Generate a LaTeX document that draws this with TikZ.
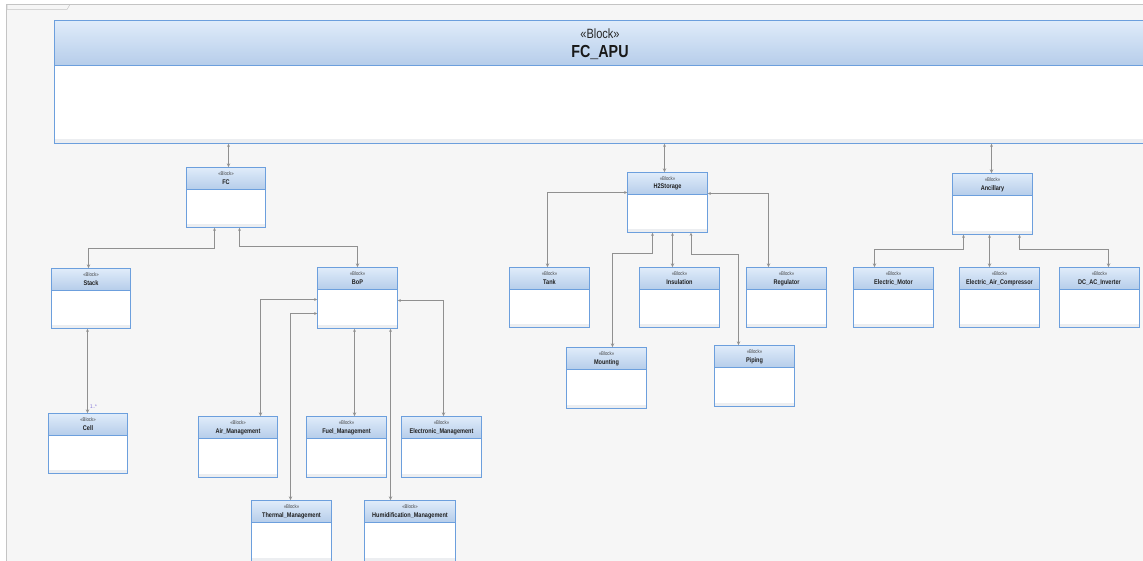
\documentclass[tikz,border=0pt]{standalone}
\usepackage{fontspec}
\newfontfamily\nf[FakeStretch=0.82]{Liberation Sans}
\usetikzlibrary{arrows.meta,fit}

\definecolor{bggray}{HTML}{F6F6F6}
\definecolor{framegray}{HTML}{C4C4C4}
\definecolor{bordercol}{HTML}{6C9FDD}
\definecolor{hdrtop}{HTML}{E0ECFA}
\definecolor{hdrbot}{HTML}{B6CDEA}
\definecolor{stripgray}{HTML}{ECEEF1}
\definecolor{conngray}{HTML}{909090}
\definecolor{multcol}{HTML}{7D6FD6}

\tikzset{
  conn/.style={draw=conngray, line width=1bp,
    arrows={Stealth[length=3.2bp,width=2.8bp]-Stealth[length=4bp,width=3.4bp]}},
  stereo/.style={font=\nf\fontsize{5.3}{5.3}\selectfont, text=black!75, inner sep=0pt},
  bname/.style={font=\nf\bfseries\fontsize{6.8}{6.8}\selectfont, text=black!88, inner sep=0pt},
  mult/.style={font=\nf\fontsize{5.5}{5.5}\selectfont, text=multcol, inner sep=0pt},
}

% SysML block: name, x1, y1, x2, y2, header height, bottom strip height (in bp)
\newcommand\sysblock[7]{%
  \node[fit={(#2,#3) (#4,#5)}, inner sep=0pt, fill=white] (#1) {};
  \fill[stripgray] ([yshift=#7bp]#1.south west) rectangle (#1.south east);
  \shade[top color=hdrtop, bottom color=hdrbot]
    (#1.north west) rectangle ([yshift=-#6bp]#1.north east);
  \draw[bordercol, line width=1.5bp]
    ([yshift=-#6bp]#1.north west) -- ([yshift=-#6bp]#1.north east);
  \draw[bordercol, line width=1.5bp] (#1.north west) rectangle (#1.south east);
}
% small block with its stereotype and name
\newcommand\smallblock[6]{%
  \sysblock{#1}{#2}{#3}{#4}{#5}{22}{4}%
  \node[stereo] (#1-st) at ([yshift=-6.5bp]#1.north) {«Block»};
  \node[bname] (#1-nm) at ([yshift=-15bp]#1.north) {#6};
}

\begin{document}
\begin{tikzpicture}[x=1bp, y=-1bp]
\useasboundingbox (0,0) rectangle (1143,561);
\clip (0,0) rectangle (1143,561);

% diagram frame
\fill[white] (0,0) rectangle (1143,561);
\fill[bggray] (6,4) rectangle (1143,561);
\draw[framegray, line width=1bp] (6.5,561) -- (6.5,4.5) -- (1143,4.5);
\draw[framegray, line width=0.5bp] (7,4.5) -- (7,9.5) -- (67,9.5) -- (70,4.5);

\begin{scope}[shift={(0.5,0.5)}]
% top-level block
\sysblock{fcapu}{54}{20}{1145}{143}{45}{5}
\node[font=\nf\fontsize{13.5}{13.5}\selectfont, text=black!85, inner sep=0pt]
  (fcapu-st) at ([yshift=-13bp]fcapu.north) {«Block»};
\node[font=\nf\bfseries\fontsize{17.5}{17.5}\selectfont, text=black!90, inner sep=0pt]
  (fcapu-nm) at ([yshift=-32bp]fcapu.north) {FC\_APU};

% fuel cell branch
\smallblock{fc}{186}{167}{265}{227}{FC}
\smallblock{stack}{51}{268}{130}{328}{Stack}
\smallblock{cell}{48}{413}{127}{473}{Cell}
\smallblock{bop}{317}{267}{397}{328}{BoP}
\smallblock{air}{198}{416}{277}{477}{Air\_Management}
\smallblock{fuel}{306}{416}{386}{477}{Fuel\_Management}
\smallblock{elec}{401}{416}{481}{477}{Electronic\_Management}
\smallblock{thermal}{251}{500}{331}{561}{Thermal\_Management}
\smallblock{humid}{364}{500}{455}{561}{Humidification\_Management}

% hydrogen storage branch
\smallblock{h2}{627}{172}{707}{232}{H2Storage}
\smallblock{tank}{509}{267}{589}{327}{Tank}
\smallblock{ins}{639}{267}{719}{327}{Insulation}
\smallblock{reg}{746}{267}{826}{327}{Regulator}
\smallblock{mount}{566}{347}{646}{408}{Mounting}
\smallblock{piping}{714}{345}{794}{406}{Piping}

% ancillary branch
\smallblock{anc}{952}{173}{1032}{234}{Ancillary}
\smallblock{emotor}{853}{267}{933}{327}{Electric\_Motor}
\smallblock{eac}{959}{267}{1039}{327}{Electric\_Air\_Compressor}
\smallblock{dcac}{1059}{267}{1139}{327}{DC\_AC\_Inverter}

% connector end points
\coordinate (fctop) at ([xshift=2.5bp]fc.north);
\coordinate (h2top) at ([xshift=-3bp]h2.north);
\coordinate (anctop) at ([xshift=-1bp]anc.north);
\coordinate (celltop) at ([xshift=-0.5bp]cell.north);
\coordinate (fueltop) at ([xshift=8bp]fuel.north);
\coordinate (humtop) at ([xshift=-19.5bp]humid.north);
\coordinate (instop) at ([xshift=-7bp]ins.north);
\coordinate (eactop) at ([xshift=-10bp]eac.north);

% compositions of the top-level block
\draw[conn] (fcapu.south -| fctop) -- (fctop);
\draw[conn] (fcapu.south -| h2top) -- (h2top);
\draw[conn] (fcapu.south -| anctop) -- (anctop);

% FC parts
\draw[conn] ([xshift=-11.5bp]fc.south) -- ++(0,21) -| ([xshift=-2.5bp]stack.north);
\draw[conn] ([xshift=13.5bp]fc.south) -- ++(0,19) -| (bop.north);
\draw[conn] (stack.south -| celltop) -- (celltop);
\node[mult, anchor=south west] (cellmult) at ([xshift=2.5bp,yshift=4.5bp]celltop) {1..*};

% BoP parts
\draw[conn] ([yshift=-1.5bp]bop.west) -| ([xshift=22.5bp]air.north);
\draw[conn] ([yshift=-15.5bp]bop.west) -| ([xshift=-1bp]thermal.north);
\draw[conn] (bop.south -| fueltop) -- (fueltop);
\draw[conn] (bop.south -| humtop) -- (humtop);
\draw[conn] ([yshift=-2.5bp]bop.east) -| ([xshift=2bp]elec.north);

% H2Storage parts
\draw[conn] ([yshift=10bp]h2.west) -| ([xshift=-2bp]tank.north);
\draw[conn] ([yshift=9bp]h2.east) -| ([xshift=-18bp]reg.north);
\draw[conn] ([xshift=-15bp]h2.south) -- ++(0,21) -| ([xshift=6bp]mount.north);
\draw[conn] (h2.south -| instop) -- (instop);
\draw[conn] ([xshift=23.5bp]h2.south) -- ++(0,22) -| ([xshift=-16bp]piping.north);

% Ancillary parts
\draw[conn] ([xshift=-29bp]anc.south) -- ++(0,15) -| ([xshift=-19bp]emotor.north);
\draw[conn] (anc.south -| eactop) -- (eactop);
\draw[conn] ([xshift=27bp]anc.south) -- ++(0,15) -| ([xshift=9bp]dcac.north);
\end{scope}
\end{tikzpicture}
\end{document}
